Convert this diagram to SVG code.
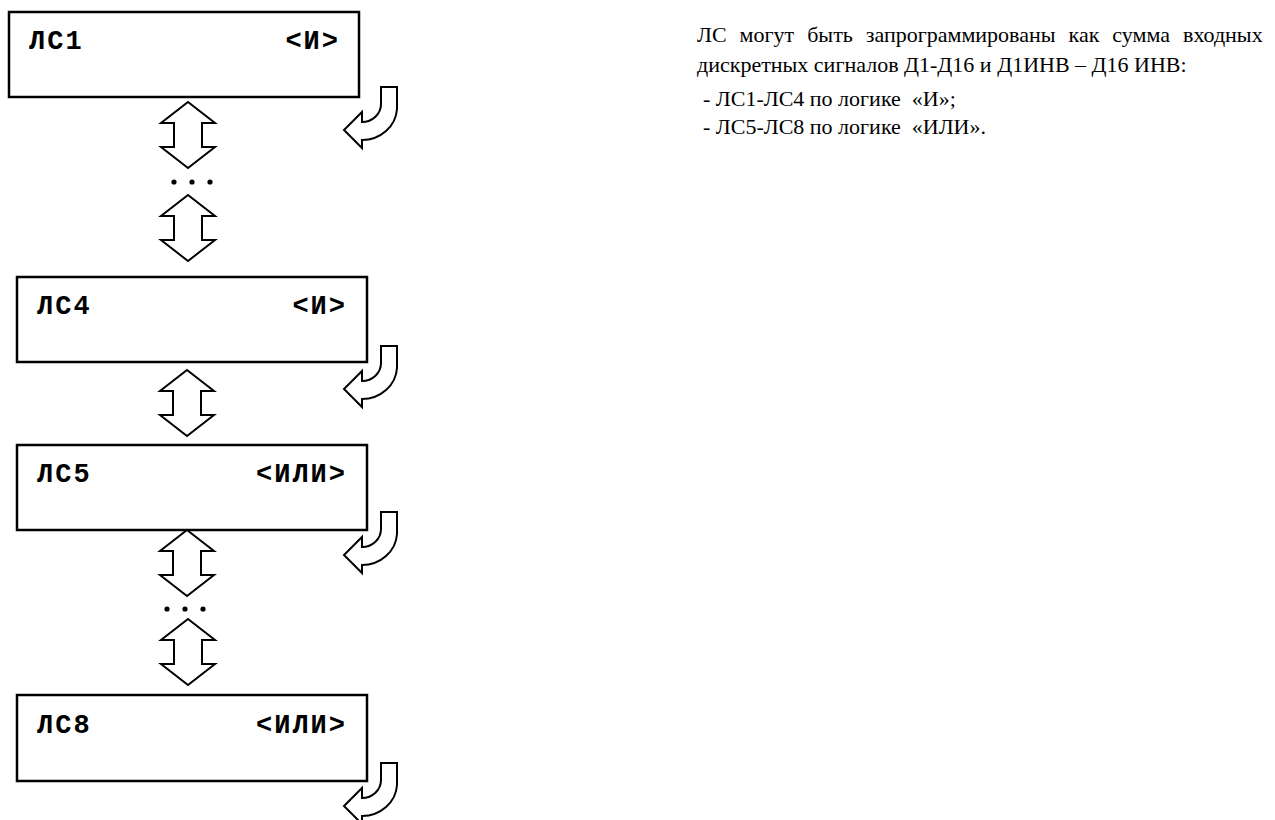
<svg xmlns="http://www.w3.org/2000/svg" xmlns:xlink="http://www.w3.org/1999/xlink" width="1275" height="820" viewBox="0 0 1275 820">
<style>
.box{fill:#fff;stroke:#000;stroke-width:2.5}
.lbl{font-family:"Liberation Mono","Courier New",monospace;font-weight:bold;font-size:27px;letter-spacing:2px;fill:#000}
.sh{fill:#fff;stroke:#000;stroke-width:2;stroke-linejoin:miter}
.txt{font-family:"Liberation Serif","Times New Roman",serif;font-size:22px;fill:#000}
.dot{fill:#000}
</style>
<defs>
<path id="dbl" class="sh" d="M0 0 L27 21 L14 21 L14 45 L27 45 L0 66 L-27 45 L-14 45 L-14 21 L-27 21 Z"/>
<path id="hook" class="sh" d="M0 0 L16 0 L16 22 A35 33 0 0 1 -19 53 L-19 61 L-37 43 L-19 25 L-19 35 A19 18 0 0 0 0 17 Z"/>
</defs>
<rect width="1275" height="820" fill="#fff"/>
<g id="node-ls1">
<rect class="box" x="9" y="12" width="350" height="85"/>
<text class="lbl" x="29" y="49">ЛС1</text>
<text class="lbl" x="340" y="49" text-anchor="end">&lt;И&gt;</text>
</g>
<g id="node-ls4">
<rect class="box" x="17" y="277" width="350" height="85"/>
<text class="lbl" x="37" y="314">ЛС4</text>
<text class="lbl" x="347" y="314" text-anchor="end">&lt;И&gt;</text>
</g>
<g id="node-ls5">
<rect class="box" x="17" y="445" width="350" height="85"/>
<text class="lbl" x="37" y="482">ЛС5</text>
<text class="lbl" x="347" y="482" text-anchor="end">&lt;ИЛИ&gt;</text>
</g>
<g id="node-ls8">
<rect class="box" x="17" y="695" width="350" height="86"/>
<text class="lbl" x="37" y="733">ЛС8</text>
<text class="lbl" x="347" y="733" text-anchor="end">&lt;ИЛИ&gt;</text>
</g>
<g id="connectors">
<use xlink:href="#dbl" href="#dbl" transform="translate(188,102)"/>
<use xlink:href="#dbl" href="#dbl" transform="translate(188,195)"/>
<use xlink:href="#dbl" href="#dbl" transform="translate(187,370)"/>
<use xlink:href="#dbl" href="#dbl" transform="translate(187,530)"/>
<use xlink:href="#dbl" href="#dbl" transform="translate(188,619)"/>
<use xlink:href="#hook" href="#hook" transform="translate(381,87)"/>
<use xlink:href="#hook" href="#hook" transform="translate(381,346)"/>
<use xlink:href="#hook" href="#hook" transform="translate(381,512)"/>
<use xlink:href="#hook" href="#hook" transform="translate(381,763)"/>
<circle class="dot" cx="174" cy="182" r="2.6"/>
<circle class="dot" cx="192" cy="182" r="2.6"/>
<circle class="dot" cx="210" cy="182" r="2.6"/>
<circle class="dot" cx="167" cy="609" r="2.6"/>
<circle class="dot" cx="185" cy="609" r="2.6"/>
<circle class="dot" cx="203" cy="609" r="2.6"/>
</g>
<g id="description">
<text class="txt" x="697" y="42" word-spacing="7.5">ЛС могут быть запрограммированы как сумма входных</text>
<text class="txt" x="697" y="72">дискретных сигналов Д1-Д16 и Д1ИНВ – Д16 ИНВ:</text>
<text class="txt" x="703" y="106" xml:space="preserve">- ЛС1-ЛС4 по логике  «И»;</text>
<text class="txt" x="703" y="134" xml:space="preserve">- ЛС5-ЛС8 по логике  «ИЛИ».</text>
</g>
</svg>
